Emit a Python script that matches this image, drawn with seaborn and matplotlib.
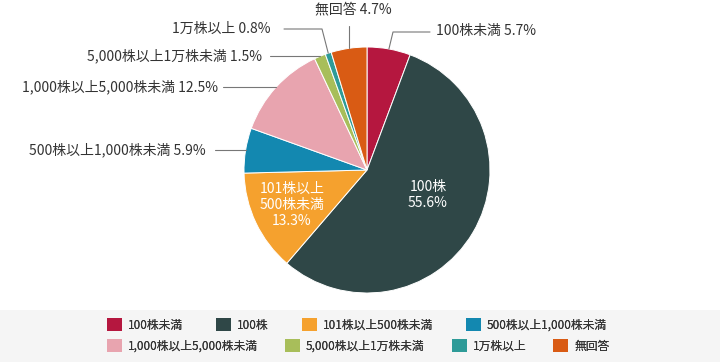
import numpy as np
import matplotlib
matplotlib.use("Agg")
import matplotlib.pyplot as plt
from matplotlib.patches import Patch, Rectangle
import seaborn as sns

# share ownership breakdown (%), clockwise from 12 o'clock
categories = ["100株未満", "100株", "101株以上500株未満", "500株以上1,000株未満",
              "1,000株以上5,000株未満", "5,000株以上1万株未満", "1万株以上", "無回答"]
values = [5.7, 55.6, 13.3, 5.9, 12.5, 1.5, 0.8, 4.7]
colors = ["#b5173f", "#2f4747", "#f5a12e", "#1388b0",
          "#e8a4af", "#a8be5a", "#2e9b98", "#d95b14"]
# names used on the chart labels (inside labels are wrapped)
inner_names = {1: "100株", 2: "101株以上\n500株未満"}

sns.set_theme(style="white")
plt.rcParams["font.family"] = ["Noto Sans CJK JP", "DejaVu Sans"]

W, H = 720, 362
fig = plt.figure(figsize=(W / 100, H / 100), dpi=100)
ax = fig.add_axes([0, 0, 1, 1])

def py(y):
    # pixel row (from top) -> data y
    return H - y

cx, cy, r = 367, py(170), 123
wedges, _ = ax.pie(values, colors=colors, startangle=90, counterclock=False,
                   center=(cx, cy), radius=r,
                   wedgeprops=dict(edgecolor="white", linewidth=0.7))
ax.set_xlim(0, W)
ax.set_ylim(0, H)
ax.set_aspect("equal")
ax.axis("off")

# inside labels
inner_pos = {1: (428, 195), 2: (292, 205)}
for i, (x, y) in inner_pos.items():
    ax.text(x, py(y), f"{inner_names[i]}\n{values[i]}%", ha="center", va="center",
            color="white", fontsize=10, linespacing=1.2)

# outside labels: (elbow, line end, text x, text y, ha)
outer = {
    0: ((393, 32), (430, 32), 436, 31, "left"),
    7: (None, (None, 26), 353, 9, "center"),
    6: ((322, 29), (284, 29), 270, 29, "right"),
    5: (None, (270, 57), 262, 57, "right"),
    4: (None, (223, 89), 218, 89, "right"),
    3: (None, (215, 149), 206, 149, "right"),
}
line_kw = dict(color="#777777", linewidth=0.8)
for i, (elbow, end, tx, ty, ha) in outer.items():
    w = wedges[i]
    th = np.deg2rad((w.theta1 + w.theta2) / 2)
    ex, ey = cx + r * np.cos(th), cy + r * np.sin(th)
    xs, ys = [ex], [ey]
    if elbow is not None:
        xs.append(elbow[0]); ys.append(py(elbow[1]))
    endx = ex if end[0] is None else end[0]
    endy = py(end[1]) if elbow is not None or end[0] is None else ey
    xs.append(endx); ys.append(endy)
    ax.plot(xs, ys, **line_kw)
    if elbow is None and end[0] is not None:
        ty_d = ey
    else:
        ty_d = py(ty)
    ax.text(tx, ty_d, f"{categories[i]} {values[i]}%", ha=ha, va="center",
            color="#333333", fontsize=10)

# legend band
fig.patches.append(Rectangle((0, 0), 1, (H - 310) / H, transform=fig.transFigure,
                             facecolor="#f5f5f5", edgecolor="none", zorder=0))

fs = 8.5
fs_px = fs * 100 / 72
handles = [Patch(facecolor=c, edgecolor="none") for c in colors]
rows = [(0, 4, 325, 33), (4, 8, 346, 27)]
for a, b, yrow, gap in rows:
    leg = fig.legend(handles[a:b], categories[a:b], ncol=4, loc="center left",
                     bbox_to_anchor=(107 / W, 1 - yrow / H), frameon=False,
                     fontsize=fs, borderpad=0, borderaxespad=0,
                     handlelength=15 / fs_px, handleheight=15 / fs_px,
                     handletextpad=6 / fs_px, columnspacing=gap / fs_px,
                     labelcolor="#333333")
    fig.add_artist(leg)

fig.savefig("out.png", dpi=100)
